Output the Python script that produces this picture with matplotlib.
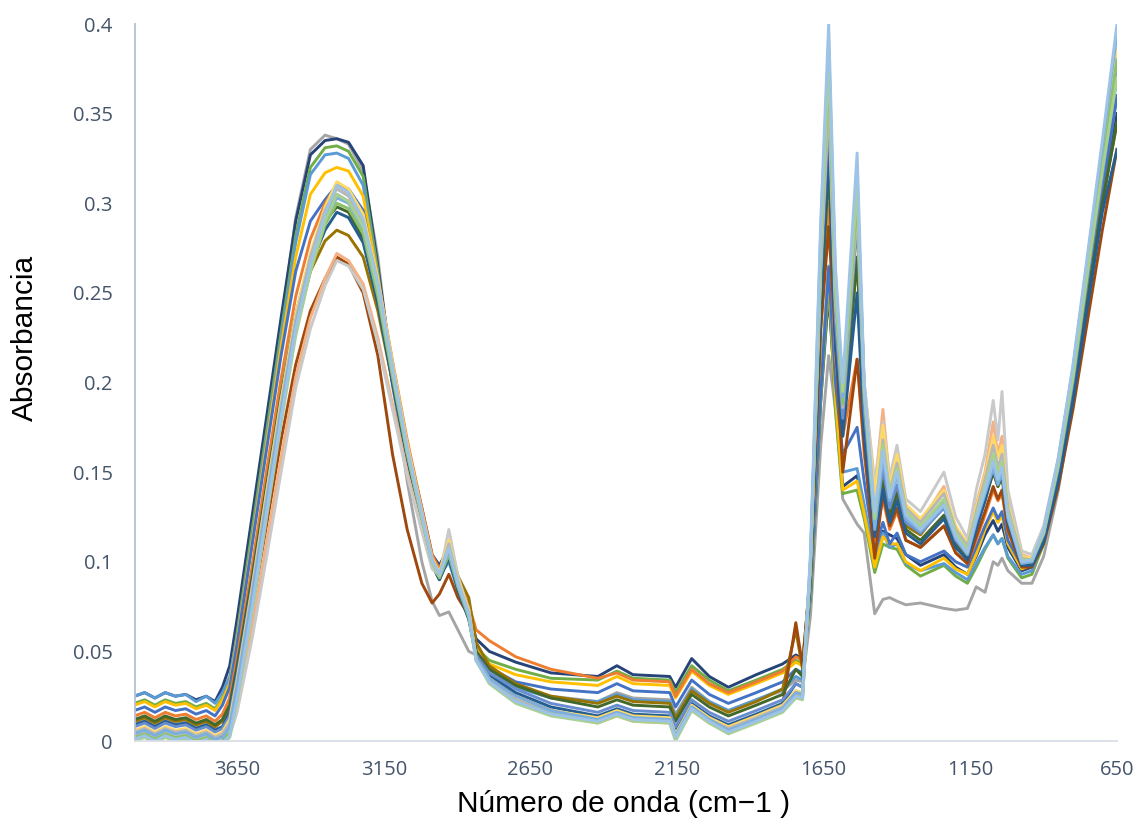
import matplotlib
matplotlib.use("Agg")
import matplotlib.pyplot as plt

# wavenumber grid shared by every spectrum (cm-1, descending)
wavenumber = [4000, 3965, 3930, 3895, 3860, 3825, 3790, 3755, 3725, 3700,
              3675, 3650, 3600, 3550, 3500, 3450, 3400, 3350, 3310, 3270,
              3220, 3170, 3120, 3070, 3020, 2985, 2960, 2928, 2897, 2860,
              2835, 2790, 2700, 2580, 2420, 2355, 2300, 2175, 2155, 2100,
              2040, 1975, 1880, 1790, 1745, 1722, 1695, 1660, 1633, 1610,
              1585, 1536, 1512, 1476, 1448, 1425, 1400, 1370, 1320, 1240,
              1200, 1160, 1130, 1100, 1072, 1056, 1042, 1022, 975, 940,
              900, 850, 800, 750, 700, 650]

m01 = [0.010, 0.012, 0.009, 0.012, 0.010, 0.011, 0.008, 0.010, 0.007, 0.012,
       0.024, 0.052, 0.110, 0.170, 0.232, 0.292, 0.330, 0.338, 0.336, 0.333,
       0.318, 0.270, 0.200, 0.145, 0.100, 0.078, 0.070, 0.072, 0.062, 0.050,
       0.048, 0.036, 0.030, 0.025, 0.022, 0.027, 0.024, 0.023, 0.015, 0.030,
       0.022, 0.017, 0.023, 0.028, 0.034, 0.033, 0.070, 0.165, 0.215, 0.185,
       0.135, 0.121, 0.116, 0.071, 0.079, 0.080, 0.078, 0.076, 0.077, 0.074,
       0.073, 0.074, 0.086, 0.083, 0.100, 0.098, 0.102, 0.095, 0.088, 0.088,
       0.103, 0.140, 0.190, 0.250, 0.310, 0.375]
m02 = [0.025, 0.027, 0.024, 0.027, 0.025, 0.026, 0.023, 0.025, 0.022, 0.030,
       0.042, 0.068, 0.124, 0.180, 0.236, 0.290, 0.327, 0.335, 0.336, 0.334,
       0.321, 0.265, 0.205, 0.165, 0.130, 0.104, 0.098, 0.108, 0.090, 0.072,
       0.057, 0.050, 0.044, 0.038, 0.036, 0.042, 0.037, 0.036, 0.030, 0.046,
       0.036, 0.030, 0.037, 0.043, 0.048, 0.046, 0.080, 0.190, 0.250, 0.190,
       0.142, 0.148, 0.130, 0.099, 0.117, 0.115, 0.113, 0.104, 0.098, 0.104,
       0.097, 0.093, 0.103, 0.115, 0.123, 0.117, 0.121, 0.108, 0.095, 0.097,
       0.112, 0.150, 0.195, 0.250, 0.300, 0.350]
m03 = [0.021, 0.023, 0.020, 0.023, 0.021, 0.022, 0.019, 0.021, 0.018, 0.024,
       0.034, 0.060, 0.116, 0.172, 0.228, 0.282, 0.320, 0.331, 0.332, 0.329,
       0.315, 0.262, 0.200, 0.158, 0.122, 0.100, 0.095, 0.104, 0.087, 0.070,
       0.052, 0.045, 0.040, 0.035, 0.034, 0.039, 0.035, 0.034, 0.027, 0.042,
       0.034, 0.028, 0.034, 0.040, 0.045, 0.043, 0.080, 0.190, 0.255, 0.185,
       0.138, 0.140, 0.124, 0.094, 0.110, 0.108, 0.107, 0.098, 0.092, 0.098,
       0.092, 0.088, 0.097, 0.107, 0.115, 0.110, 0.113, 0.102, 0.091, 0.093,
       0.110, 0.150, 0.198, 0.255, 0.310, 0.360]
m04 = [0.025, 0.027, 0.024, 0.027, 0.025, 0.026, 0.022, 0.025, 0.021, 0.027,
       0.036, 0.058, 0.112, 0.168, 0.224, 0.278, 0.316, 0.327, 0.328, 0.325,
       0.310, 0.258, 0.198, 0.156, 0.120, 0.098, 0.092, 0.100, 0.084, 0.068,
       0.050, 0.040, 0.030, 0.024, 0.022, 0.026, 0.023, 0.022, 0.014, 0.029,
       0.022, 0.017, 0.023, 0.029, 0.036, 0.034, 0.085, 0.200, 0.265, 0.195,
       0.150, 0.152, 0.132, 0.100, 0.116, 0.108, 0.110, 0.099, 0.095, 0.099,
       0.094, 0.090, 0.099, 0.108, 0.115, 0.110, 0.113, 0.103, 0.093, 0.095,
       0.112, 0.152, 0.200, 0.258, 0.315, 0.370]
m05 = [0.020, 0.022, 0.019, 0.022, 0.020, 0.021, 0.018, 0.020, 0.017, 0.023,
       0.032, 0.056, 0.110, 0.165, 0.220, 0.270, 0.305, 0.317, 0.320, 0.318,
       0.304, 0.258, 0.200, 0.157, 0.121, 0.099, 0.093, 0.103, 0.086, 0.069,
       0.051, 0.043, 0.037, 0.033, 0.031, 0.036, 0.032, 0.031, 0.024, 0.039,
       0.031, 0.026, 0.032, 0.038, 0.044, 0.042, 0.085, 0.200, 0.262, 0.192,
       0.140, 0.145, 0.127, 0.097, 0.114, 0.110, 0.110, 0.100, 0.095, 0.102,
       0.096, 0.093, 0.104, 0.118, 0.128, 0.122, 0.126, 0.110, 0.096, 0.098,
       0.114, 0.154, 0.203, 0.262, 0.320, 0.385]
m06 = [0.017, 0.019, 0.016, 0.019, 0.017, 0.018, 0.015, 0.017, 0.014, 0.020,
       0.030, 0.054, 0.108, 0.162, 0.215, 0.262, 0.290, 0.302, 0.310, 0.308,
       0.296, 0.255, 0.200, 0.158, 0.123, 0.100, 0.093, 0.106, 0.087, 0.070,
       0.050, 0.041, 0.033, 0.029, 0.027, 0.032, 0.028, 0.027, 0.019, 0.034,
       0.026, 0.021, 0.027, 0.033, 0.040, 0.038, 0.085, 0.195, 0.264, 0.200,
       0.160, 0.175, 0.145, 0.106, 0.122, 0.110, 0.116, 0.104, 0.100, 0.106,
       0.100, 0.097, 0.108, 0.120, 0.130, 0.124, 0.128, 0.112, 0.098, 0.099,
       0.113, 0.150, 0.196, 0.252, 0.305, 0.360]
m07 = [0.014, 0.016, 0.013, 0.016, 0.014, 0.015, 0.012, 0.014, 0.011, 0.015,
       0.024, 0.046, 0.096, 0.150, 0.202, 0.248, 0.280, 0.300, 0.310, 0.306,
       0.292, 0.258, 0.212, 0.168, 0.130, 0.104, 0.096, 0.110, 0.092, 0.076,
       0.062, 0.056, 0.047, 0.040, 0.035, 0.038, 0.034, 0.033, 0.025, 0.040,
       0.032, 0.027, 0.033, 0.039, 0.047, 0.045, 0.090, 0.230, 0.300, 0.215,
       0.170, 0.213, 0.160, 0.112, 0.135, 0.118, 0.128, 0.112, 0.108, 0.120,
       0.105, 0.099, 0.112, 0.126, 0.140, 0.134, 0.138, 0.117, 0.099, 0.101,
       0.118, 0.156, 0.205, 0.265, 0.328, 0.390]
m08 = [0.011, 0.013, 0.010, 0.013, 0.011, 0.012, 0.009, 0.011, 0.008, 0.011,
       0.018, 0.038, 0.085, 0.135, 0.185, 0.230, 0.262, 0.279, 0.285, 0.282,
       0.270, 0.240, 0.200, 0.160, 0.125, 0.100, 0.094, 0.112, 0.092, 0.080,
       0.055, 0.042, 0.032, 0.025, 0.021, 0.025, 0.022, 0.021, 0.013, 0.028,
       0.021, 0.016, 0.022, 0.029, 0.062, 0.040, 0.095, 0.250, 0.330, 0.230,
       0.175, 0.270, 0.180, 0.118, 0.148, 0.128, 0.140, 0.120, 0.115, 0.132,
       0.112, 0.104, 0.124, 0.136, 0.150, 0.142, 0.148, 0.124, 0.100, 0.100,
       0.114, 0.148, 0.192, 0.245, 0.300, 0.345]
m09 = [0.004, 0.006, 0.003, 0.006, 0.004, 0.005, 0.002, 0.004, 0.001, 0.003,
       0.010, 0.028, 0.072, 0.120, 0.168, 0.210, 0.240, 0.258, 0.270, 0.266,
       0.250, 0.215, 0.160, 0.118, 0.088, 0.077, 0.082, 0.093, 0.080, 0.070,
       0.050, 0.036, 0.025, 0.017, 0.012, 0.016, 0.013, 0.012, 0.004, 0.019,
       0.012, 0.007, 0.013, 0.020, 0.066, 0.042, 0.095, 0.230, 0.287, 0.225,
       0.150, 0.213, 0.165, 0.102, 0.138, 0.120, 0.130, 0.112, 0.108, 0.120,
       0.105, 0.099, 0.114, 0.128, 0.142, 0.135, 0.140, 0.118, 0.097, 0.097,
       0.110, 0.142, 0.185, 0.235, 0.285, 0.330]
m10 = [0.012, 0.014, 0.011, 0.014, 0.012, 0.013, 0.010, 0.012, 0.009, 0.012,
       0.020, 0.042, 0.090, 0.142, 0.193, 0.238, 0.270, 0.290, 0.298, 0.295,
       0.280, 0.245, 0.200, 0.158, 0.122, 0.098, 0.090, 0.103, 0.085, 0.070,
       0.050, 0.040, 0.031, 0.024, 0.019, 0.023, 0.020, 0.019, 0.011, 0.026,
       0.019, 0.014, 0.020, 0.026, 0.040, 0.036, 0.092, 0.240, 0.320, 0.225,
       0.175, 0.270, 0.175, 0.116, 0.145, 0.125, 0.138, 0.118, 0.112, 0.126,
       0.110, 0.102, 0.120, 0.134, 0.150, 0.142, 0.147, 0.122, 0.099, 0.099,
       0.113, 0.148, 0.193, 0.248, 0.300, 0.345]
m11 = [0.009, 0.011, 0.008, 0.011, 0.009, 0.010, 0.007, 0.009, 0.006, 0.008,
       0.016, 0.038, 0.086, 0.138, 0.188, 0.234, 0.265, 0.285, 0.295, 0.292,
       0.278, 0.244, 0.200, 0.158, 0.122, 0.098, 0.090, 0.102, 0.084, 0.068,
       0.047, 0.037, 0.027, 0.019, 0.014, 0.018, 0.015, 0.014, 0.006, 0.021,
       0.014, 0.009, 0.015, 0.021, 0.032, 0.030, 0.092, 0.245, 0.335, 0.220,
       0.170, 0.250, 0.170, 0.114, 0.140, 0.122, 0.134, 0.116, 0.110, 0.124,
       0.108, 0.101, 0.118, 0.134, 0.152, 0.143, 0.150, 0.122, 0.098, 0.098,
       0.111, 0.145, 0.190, 0.243, 0.295, 0.330]
m12 = [0.008, 0.010, 0.007, 0.010, 0.008, 0.009, 0.006, 0.008, 0.005, 0.007,
       0.014, 0.036, 0.085, 0.138, 0.190, 0.237, 0.270, 0.293, 0.305, 0.301,
       0.287, 0.252, 0.206, 0.162, 0.125, 0.100, 0.092, 0.105, 0.086, 0.070,
       0.048, 0.038, 0.029, 0.021, 0.016, 0.020, 0.017, 0.016, 0.008, 0.023,
       0.016, 0.011, 0.017, 0.023, 0.032, 0.030, 0.095, 0.258, 0.350, 0.235,
       0.180, 0.290, 0.185, 0.120, 0.152, 0.130, 0.143, 0.122, 0.116, 0.130,
       0.112, 0.104, 0.122, 0.138, 0.155, 0.146, 0.152, 0.125, 0.100, 0.100,
       0.115, 0.152, 0.200, 0.258, 0.315, 0.375]
m13 = [0.002, 0.004, 0.001, 0.004, 0.002, 0.003, 0.000, 0.002, -0.001, 0.000,
       0.004, 0.020, 0.062, 0.110, 0.158, 0.203, 0.236, 0.258, 0.272, 0.268,
       0.255, 0.225, 0.188, 0.150, 0.118, 0.097, 0.092, 0.110, 0.090, 0.074,
       0.046, 0.034, 0.022, 0.015, 0.010, 0.014, 0.011, 0.010, 0.001, 0.017,
       0.010, 0.005, 0.011, 0.018, 0.026, 0.025, 0.100, 0.270, 0.370, 0.250,
       0.190, 0.310, 0.200, 0.140, 0.185, 0.145, 0.162, 0.130, 0.122, 0.142,
       0.118, 0.108, 0.132, 0.150, 0.178, 0.160, 0.170, 0.135, 0.104, 0.102,
       0.117, 0.155, 0.205, 0.265, 0.325, 0.385]
m14 = [0.003, 0.005, 0.002, 0.005, 0.003, 0.004, 0.001, 0.003, 0.000, 0.000,
       0.003, 0.016, 0.056, 0.102, 0.150, 0.197, 0.230, 0.254, 0.268, 0.265,
       0.252, 0.222, 0.185, 0.148, 0.117, 0.096, 0.092, 0.118, 0.092, 0.073,
       0.045, 0.033, 0.022, 0.015, 0.011, 0.015, 0.012, 0.011, 0.001, 0.018,
       0.011, 0.006, 0.012, 0.019, 0.028, 0.027, 0.100, 0.265, 0.360, 0.245,
       0.195, 0.300, 0.200, 0.144, 0.178, 0.147, 0.165, 0.135, 0.128, 0.150,
       0.125, 0.113, 0.140, 0.160, 0.190, 0.168, 0.195, 0.140, 0.106, 0.104,
       0.120, 0.158, 0.208, 0.268, 0.330, 0.390]
m15 = [0.006, 0.008, 0.005, 0.008, 0.006, 0.007, 0.004, 0.006, 0.003, 0.005,
       0.012, 0.034, 0.084, 0.138, 0.190, 0.238, 0.272, 0.298, 0.312, 0.308,
       0.294, 0.258, 0.211, 0.166, 0.128, 0.102, 0.094, 0.112, 0.090, 0.072,
       0.046, 0.035, 0.024, 0.017, 0.013, 0.017, 0.014, 0.013, 0.004, 0.020,
       0.013, 0.008, 0.014, 0.020, 0.028, 0.027, 0.100, 0.270, 0.370, 0.250,
       0.192, 0.300, 0.198, 0.138, 0.176, 0.142, 0.160, 0.132, 0.124, 0.140,
       0.120, 0.110, 0.130, 0.148, 0.170, 0.158, 0.165, 0.132, 0.103, 0.102,
       0.117, 0.155, 0.205, 0.265, 0.325, 0.385]
m16 = [0.005, 0.007, 0.004, 0.007, 0.005, 0.006, 0.003, 0.005, 0.002, 0.004,
       0.010, 0.032, 0.082, 0.135, 0.187, 0.235, 0.270, 0.296, 0.308, 0.304,
       0.290, 0.255, 0.208, 0.163, 0.126, 0.101, 0.093, 0.110, 0.089, 0.071,
       0.046, 0.034, 0.023, 0.016, 0.012, 0.016, 0.013, 0.012, 0.003, 0.019,
       0.012, 0.007, 0.013, 0.019, 0.027, 0.026, 0.098, 0.265, 0.360, 0.245,
       0.186, 0.295, 0.196, 0.124, 0.168, 0.139, 0.155, 0.130, 0.122, 0.138,
       0.118, 0.109, 0.128, 0.146, 0.165, 0.153, 0.160, 0.130, 0.102, 0.101,
       0.117, 0.155, 0.205, 0.265, 0.325, 0.380]
m17 = [0.002, 0.004, 0.001, 0.004, 0.002, 0.003, 0.000, 0.002, -0.001, 0.000,
       0.005, 0.026, 0.075, 0.128, 0.180, 0.228, 0.262, 0.288, 0.300, 0.297,
       0.283, 0.248, 0.203, 0.160, 0.124, 0.100, 0.091, 0.104, 0.086, 0.069,
       0.045, 0.033, 0.022, 0.015, 0.011, 0.015, 0.012, 0.011, 0.001, 0.018,
       0.011, 0.005, 0.011, 0.017, 0.025, 0.024, 0.100, 0.275, 0.375, 0.252,
       0.188, 0.305, 0.195, 0.120, 0.162, 0.136, 0.150, 0.126, 0.119, 0.133,
       0.115, 0.106, 0.125, 0.141, 0.158, 0.148, 0.155, 0.127, 0.100, 0.100,
       0.116, 0.154, 0.203, 0.262, 0.320, 0.380]
m18 = [0.004, 0.006, 0.003, 0.006, 0.004, 0.005, 0.002, 0.004, 0.001, 0.002,
       0.008, 0.030, 0.079, 0.132, 0.184, 0.232, 0.266, 0.291, 0.303, 0.300,
       0.286, 0.251, 0.205, 0.161, 0.124, 0.100, 0.092, 0.106, 0.087, 0.070,
       0.046, 0.035, 0.025, 0.017, 0.012, 0.016, 0.013, 0.012, 0.003, 0.019,
       0.012, 0.006, 0.012, 0.018, 0.027, 0.026, 0.102, 0.285, 0.390, 0.260,
       0.192, 0.315, 0.198, 0.118, 0.158, 0.134, 0.148, 0.124, 0.117, 0.131,
       0.113, 0.104, 0.123, 0.138, 0.152, 0.143, 0.150, 0.124, 0.099, 0.100,
       0.117, 0.157, 0.208, 0.270, 0.332, 0.395]
m19 = [0.000, 0.002, -0.001, 0.002, 0.000, 0.001, -0.002, 0.000, -0.003, -0.002,
       0.002, 0.022, 0.070, 0.124, 0.177, 0.226, 0.262, 0.290, 0.305, 0.301,
       0.287, 0.252, 0.206, 0.162, 0.125, 0.100, 0.092, 0.108, 0.088, 0.071,
       0.045, 0.032, 0.021, 0.014, 0.010, 0.014, 0.011, 0.010, 0.000, 0.017,
       0.010, 0.004, 0.010, 0.016, 0.024, 0.023, 0.100, 0.275, 0.380, 0.255,
       0.195, 0.310, 0.195, 0.124, 0.165, 0.138, 0.152, 0.128, 0.120, 0.135,
       0.116, 0.107, 0.126, 0.142, 0.160, 0.150, 0.156, 0.128, 0.101, 0.101,
       0.116, 0.154, 0.203, 0.262, 0.318, 0.370]
m20 = [0.001, 0.003, 0.000, 0.003, 0.001, 0.002, -0.001, 0.001, -0.002, -0.001,
       0.003, 0.024, 0.073, 0.127, 0.180, 0.230, 0.266, 0.294, 0.310, 0.306,
       0.291, 0.256, 0.209, 0.164, 0.127, 0.101, 0.093, 0.108, 0.088, 0.071,
       0.045, 0.033, 0.022, 0.015, 0.011, 0.015, 0.012, 0.011, 0.002, 0.018,
       0.011, 0.005, 0.011, 0.017, 0.025, 0.024, 0.105, 0.290, 0.400, 0.265,
       0.200, 0.328, 0.200, 0.128, 0.162, 0.136, 0.150, 0.126, 0.118, 0.132,
       0.114, 0.105, 0.124, 0.140, 0.156, 0.146, 0.153, 0.126, 0.100, 0.101,
       0.118, 0.158, 0.210, 0.272, 0.335, 0.400]

spectra = [m01, m02, m03, m04, m05, m06, m07, m08, m09, m10,
           m11, m12, m13, m14, m15, m16, m17, m18, m19, m20]
colors = ["#A5A5A5", "#264478", "#70AD47", "#5B9BD5", "#FFC000", "#4472C4",
          "#ED7D31", "#997300", "#9E480E", "#43682B", "#255E91", "#698ED0",
          "#F4B183", "#C9C9C9", "#FFD966", "#B7B7B7", "#8CC168", "#7CAFDD",
          "#A9D18E", "#9DC3E6"]

tick_font = "Open Sans"
title_font = ["Liberation Sans", "DejaVu Sans"]

fig = plt.figure(figsize=(11.42, 8.25), dpi=100)
ax = fig.add_axes([0.1182, 0.1018, 0.8599, 0.8691])

for y, c in zip(spectra, colors):
    ax.plot(wavenumber, y, color=c, lw=2.1, solid_joinstyle="round")

ax.set_xlim(3998, 650)
ax.set_ylim(0, 0.4)

ax.set_xticks([3650, 3150, 2650, 2150, 1650, 1150, 650])
ax.set_xticklabels(["3650", "3150", "2650", "2150", "1650", "1150", "650"])
yt = [0, 0.05, 0.1, 0.15, 0.2, 0.25, 0.3, 0.35, 0.4]
ax.set_yticks(yt)
ax.set_yticklabels(["0", "0.05", "0.1", "0.15", "0.2", "0.25", "0.3", "0.35", "0.4"])
ax.tick_params(axis="both", length=0, labelsize=14.5, labelcolor="#44546A")
ax.tick_params(axis="y", pad=16)
ax.tick_params(axis="x", pad=14)
for lab in ax.get_xticklabels() + ax.get_yticklabels():
    lab.set_fontfamily(tick_font)

for s in ["top", "right"]:
    ax.spines[s].set_visible(False)
ax.spines["left"].set_color("#B4C0D4")
ax.spines["left"].set_linewidth(1.3)
ax.spines["bottom"].set_color("#D9DEE7")
ax.spines["bottom"].set_linewidth(1.3)

fig.text(25 / 1142, 1 - 338 / 825, "Absorbancia", rotation=90, ha="center",
         va="center", fontsize=21.5, family=title_font, color="black")
fig.text(624 / 1142, 1 - 804 / 825, "Número de onda (cm\u22121 )", ha="center",
         va="center", fontsize=21.5, family=title_font, color="black")

fig.savefig("out.png", dpi=100)
